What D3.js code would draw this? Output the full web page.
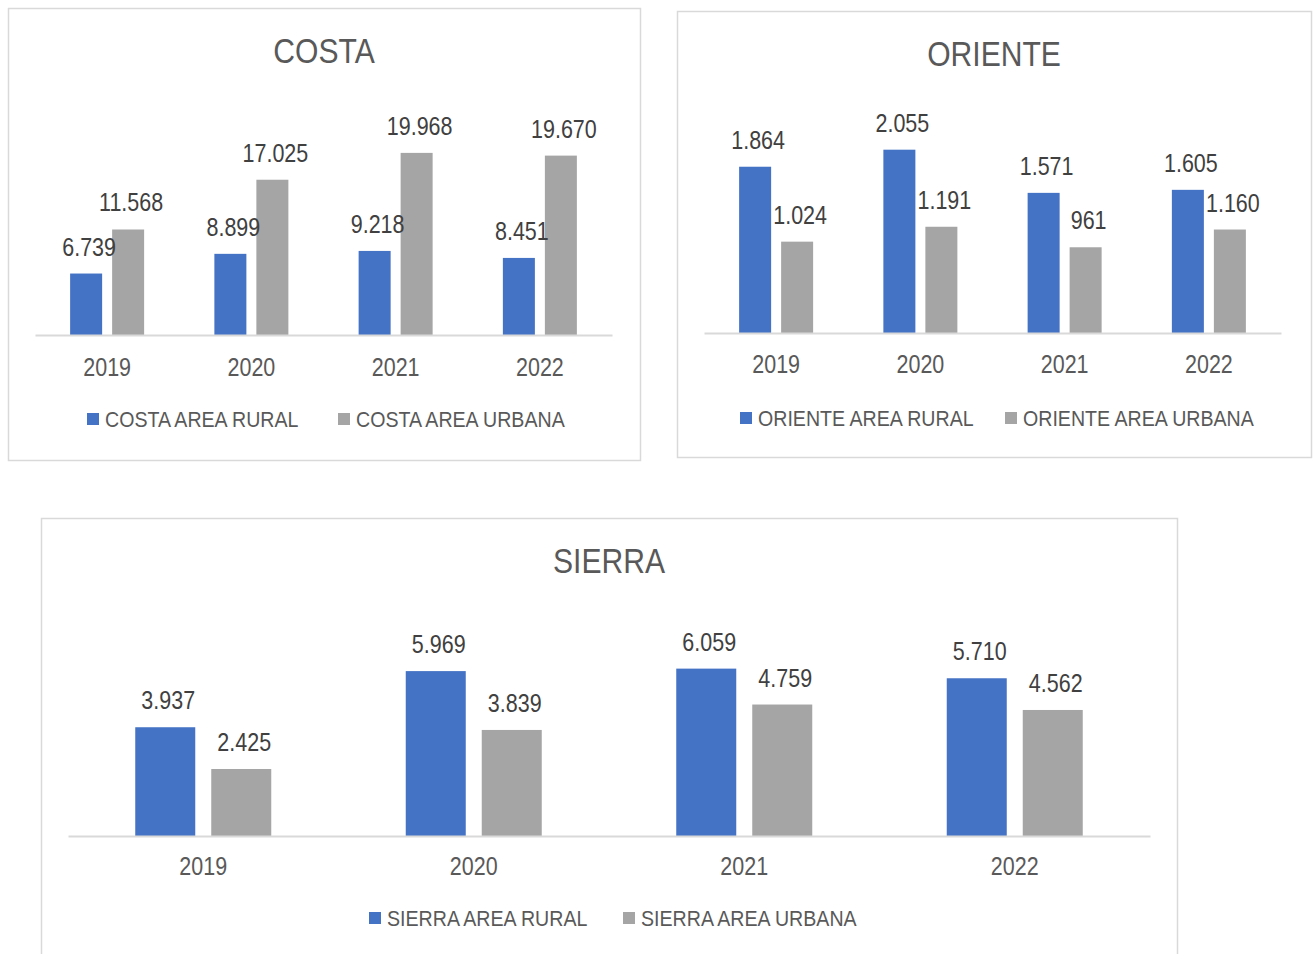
<!DOCTYPE html>
<html>
<head>
<meta charset="utf-8">
<script src="https://cdn.jsdelivr.net/npm/d3@7"></script>
<style>
  body { margin: 0; background: #fff; }
  svg { display: block; }
  text { font-family: "Liberation Sans", Arial, sans-serif; }
</style>
</head>
<body>
<svg id="chart" width="1316" height="954"></svg>
<script>
const years = ['2019', '2020', '2021', '2022']
const series = ['rural', 'urbana']

const costaRural = [6739, 8899, 9218, 8451]
const costaUrbana = [11568, 17025, 19968, 19670]
const orienteRural = [1864, 2055, 1571, 1605]
const orienteUrbana = [1024, 1191, 961, 1160]
const sierraRural = [3937, 5969, 6059, 5710]
const sierraUrbana = [2425, 3839, 4759, 4562]

const color = { rural: '#4472C4', urbana: '#A5A5A5' }
const fmt = d3.formatLocale({ decimal: ',', thousands: '.', grouping: [3], currency: ['$', ''] }).format(',d')

// narrow the glyphs a bit, the original looks like Calibri
const squeeze = 0.86

const SVG = d3.select('#chart')

const panels = [
    {
        title: 'COSTA', rural: costaRural, urbana: costaUrbana, max: 25000,
        box: [8, 8, 632, 452], left: 35, right: 612, base: 335, top: 107,
        barW: 32, gap: 10, titleY: 51, tickY: 367, legendY: 419,
        legend: [[87, 'COSTA AREA RURAL'], [338, 'COSTA AREA URBANA']]
    },
    {
        title: 'ORIENTE', rural: orienteRural, urbana: orienteUrbana, max: 2500,
        box: [677, 11, 634, 446], left: 704, right: 1281, base: 333, top: 110,
        barW: 32, gap: 10, titleY: 54, tickY: 364, legendY: 418,
        legend: [[740, 'ORIENTE AREA RURAL'], [1005, 'ORIENTE AREA URBANA']]
    },
    {
        title: 'SIERRA', rural: sierraRural, urbana: sierraUrbana, max: 8000,
        box: [41, 518, 1136, 460], left: 68, right: 1150, base: 836, top: 615,
        barW: 60, gap: 16, titleY: 561, tickY: 866, legendY: 918,
        legend: [[369, 'SIERRA AREA RURAL'], [623, 'SIERRA AREA URBANA']]
    }
]

panels.forEach(p => {
    const g = SVG.append('g')

    g.append('rect')
        .attr('x', p.box[0] + 0.5)
        .attr('y', p.box[1] + 0.5)
        .attr('width', p.box[2])
        .attr('height', p.box[3])
        .attr('fill', '#fff')
        .attr('stroke', '#D9D9D9')
        .attr('stroke-width', 1.5)

    g.append('text')
        .text(p.title)
        .attr('x', p.box[0] + p.box[2] / 2)
        .attr('y', p.titleY + 12)
        .attr('text-anchor', 'middle')
        .attr('fill', '#595959')
        .style('font-size', '35px')

    const x0 = d3.scaleBand().domain(years).range([p.left, p.right]).padding(0)
    const groupW = p.barW * 2 + p.gap
    const x1 = d3.scaleBand().domain(series)
        .range([-groupW / 2, groupW / 2])
        .paddingInner(p.gap / (p.barW + p.gap))
        .paddingOuter(0)
    const y = d3.scaleLinear().domain([0, p.max]).range([p.base, p.top])

    const rows = years.map((yr, i) => ({ year: yr, rural: p.rural[i], urbana: p.urbana[i] }))

    const groups = g.selectAll('.yr')
        .data(rows)
        .join('g')
        .attr('transform', d => `translate(${x0(d.year) + x0.bandwidth() / 2}, 0)`)

    groups.selectAll('rect')
        .data(d => series.map(s => ({ key: s, value: d[s] })))
        .join('rect')
        .attr('x', d => x1(d.key))
        .attr('y', d => y(d.value))
        .attr('width', x1.bandwidth())
        .attr('height', d => p.base - y(d.value))
        .attr('fill', d => color[d.key])

    groups.selectAll('text')
        .data(d => series.map(s => ({ key: s, value: d[s] })))
        .join('text')
        .text(d => fmt(d.value))
        .attr('x', d => x1(d.key) + x1.bandwidth() / 2 + 3)
        .attr('y', d => y(d.value) - 18)
        .attr('text-anchor', 'middle')
        .attr('fill', '#404040')
        .style('font-size', '25px')

    const axis = d3.axisBottom(x0).tickSize(0).tickSizeOuter(0).tickPadding(0)
    const ax = g.append('g')
        .attr('transform', `translate(0, ${p.base})`)
        .call(axis)
    ax.select('.domain').attr('stroke', '#D9D9D9').attr('stroke-width', 2)
    ax.selectAll('text')
        .attr('dy', null)
        .attr('y', p.tickY - p.base + 9)
        .attr('fill', '#595959')
        .style('font-size', '25px')
        .style('font-family', '"Liberation Sans", Arial, sans-serif')

    p.legend.forEach((l, i) => {
        g.append('rect')
            .attr('x', l[0])
            .attr('y', p.legendY - 6)
            .attr('width', 12)
            .attr('height', 12)
            .attr('fill', color[series[i]])
        g.append('text')
            .text(l[1])
            .attr('x', l[0] + 18)
            .attr('y', p.legendY + 8)
            .attr('fill', '#595959')
            .style('font-size', '22.8px')
    })
})

SVG.selectAll('text').each(function () {
    const t = d3.select(this)
    const x = +t.attr('x') || 0
    const y = +t.attr('y') || 0
    t.attr('x', 0).attr('y', 0)
        .attr('transform', `translate(${x}, ${y}) scale(${squeeze}, 1)`)
})
</script>
</body>
</html>
